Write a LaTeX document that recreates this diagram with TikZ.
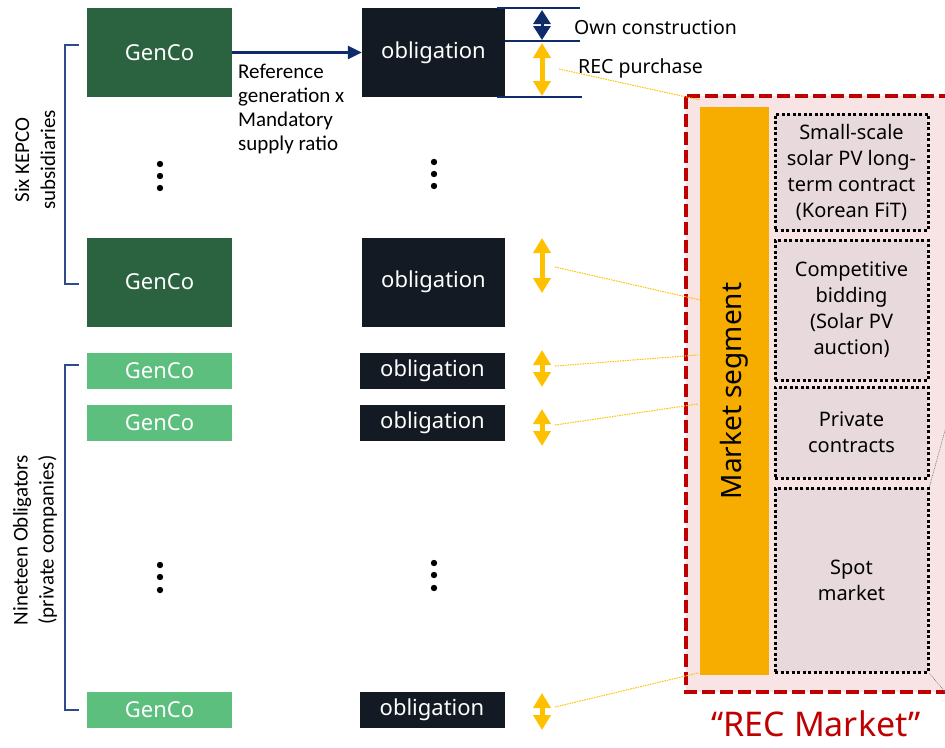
\documentclass[tikz,border=0pt]{standalone}
\usepackage{fontspec}
\setmainfont{Noto Sans}
\newfontfamily\lblfont{Carlito}
\usetikzlibrary{arrows.meta}
\definecolor{dkgreen}{HTML}{2B6340}
\definecolor{ltgreen}{HTML}{5CBF7E}
\definecolor{obl}{HTML}{131A23}
\definecolor{navy}{HTML}{0F2B6B}
\definecolor{brk}{HTML}{2F4B8C}
\definecolor{yel}{HTML}{FFC000}
\definecolor{barorange}{HTML}{F7AC00}
\definecolor{pinkbg}{HTML}{F8E4E5}
\definecolor{boxbg}{HTML}{E8D9DC}
\definecolor{darkred}{HTML}{C00000}
\begin{document}
\begin{tikzpicture}[x=1pt,y=-1pt,
  gbig/.style={fill=dkgreen,text=white,minimum width=145,minimum height=89,inner sep=0,font=\fontsize{22}{24}\selectfont},
  gsmall/.style={fill=ltgreen,text=white,minimum width=145,minimum height=36,inner sep=0,font=\fontsize{22}{24}\selectfont},
  obig/.style={fill=obl,text=white,minimum width=143,minimum height=89,inner sep=0,font=\fontsize{22}{24}\selectfont},
  osmall/.style={fill=obl,text=white,minimum width=145,minimum height=36,inner sep=0,font=\fontsize{22}{24}\selectfont},
  yarrow/.style={yel,line width=5,{Triangle[length=15pt,width=17pt]}-{Triangle[length=15pt,width=17pt]}},
  ydot/.style={yel,line width=1,dash pattern=on 1.5pt off 1pt},
  bracket/.style={brk,line width=1.2},
  segbox/.style={draw=black,fill=boxbg,line width=3,dash pattern=on 3pt off 2.5pt,minimum width=153,inner sep=0,align=center,font=\fontsize{20}{26}\selectfont},
  vdot/.style={fill=black},
  sidelabel/.style={rotate=90,align=center,font=\lblfont\fontsize{21}{26}\selectfont},
]
\useasboundingbox (0,0) rectangle (945,747);
\begin{scope}
\clip (0,0) rectangle (945,747);

% REC market background
\draw[darkred,line width=4,dash pattern=on 13pt off 5pt,fill=pinkbg] (686,96) rectangle (970,692);

% generators
\node[gbig] (g1) at (159.5,52.5) {GenCo};
\node[gbig] (g2) at (159.5,282) {GenCo};
\node[gsmall] (g3) at (159.5,371) {GenCo};
\node[gsmall] (g4) at (159.5,423) {GenCo};
\node[gsmall] (g5) at (159.5,710) {GenCo};

% obligations
\node[obig] (o1) at (433.5,52.5) {obligation};
\node[obig] (o2) at (433.5,282) {obligation};
\node[osmall] (o3) at (432.5,370.5) {obligation};
\node[osmall] (o4) at (432.5,423) {obligation};
\node[osmall] (o5) at (432,710) {obligation};

% arrow GenCo -> obligation
\draw[navy,line width=2.5,-{Triangle[length=14pt,width=13pt]}] (g1) -- (o1);
\node[anchor=north west,align=left,inner sep=0,font=\lblfont\fontsize{21}{24}\selectfont] (reflbl) at (238,64) {Reference\\generation x\\Mandatory\\supply ratio};

% vertical dots
\foreach \yy in {164,176,188} { \fill[vdot] (160,\yy) circle (3.2); \fill[vdot] (434,\yy-2) circle (3.2); }
\foreach \yy in {565,577,590} { \fill[vdot] (160,\yy) circle (3.2); \fill[vdot] (434,\yy-2) circle (3.2); }

% brackets
\draw[bracket] (79,45) -- (65,45) -- (65,284) -- (79,284);
\draw[bracket] (79,365) -- (65,365) -- (65,710) -- (79,710);
\node[sidelabel] (lbl1) at (35,160) {Six KEPCO\\subsidiaries};
\node[sidelabel] (lbl2) at (35,540) {Nineteen Obligators\\(private companies)};

% obligation split lines
\coordinate (l1a) at (497,8);  \coordinate (l1b) at (580,8);
\coordinate (l2a) at (505,41); \coordinate (l2b) at (580,41);
\coordinate (l3a) at (497,97); \coordinate (l3b) at (582,97);
\draw[navy,line width=1.2] (l1a) -- (l1b);
\draw[navy,line width=1.2] (l2a) -- (l2b);
\draw[navy,line width=1.2] (l3a) -- (l3b);

% arrows
\coordinate (n1) at (542,10); \coordinate (n2) at (542,40);
\draw[navy,line width=3,{Triangle[length=14pt,width=17pt]}-{Triangle[length=14pt,width=17pt]}] (n1) -- (n2);
\coordinate (a1t) at (542,43);  \coordinate (a1b) at (542,96);
\coordinate (a2t) at (542,238); \coordinate (a2b) at (542,293);
\coordinate (a3t) at (542,350); \coordinate (a3b) at (542,387);
\coordinate (a4t) at (542,409); \coordinate (a4b) at (542,446);
\coordinate (a5t) at (542,693); \coordinate (a5b) at (542,730);
\draw[yarrow] (a1t) -- (a1b);
\draw[yarrow] (a2t) -- (a2b);
\draw[yarrow] (a3t) -- (a3b);
\draw[yarrow] (a4t) -- (a4b);
\draw[yarrow] (a5t) -- (a5b);

\node[anchor=west,inner sep=0,font=\fontsize{19.5}{22}\selectfont] (own) at (574,27) {Own construction};
\node[anchor=west,inner sep=0,font=\fontsize{19.5}{22}\selectfont] (recp) at (578,68) {REC purchase};

% market segment bar
\node[fill=barorange,minimum width=568,minimum height=69,inner sep=0,rotate=90,font=\fontsize{28}{30}\selectfont] (bar) at (734.5,391) {Market segment};

% dotted yellow links
\coordinate (d1s) at (559,69);  \coordinate (d1e) at (700,100);
\coordinate (d2s) at (555,267); \coordinate (d2e) at (700,300);
\coordinate (d3s) at (555,366); \coordinate (d3e) at (698,355);
\coordinate (d4s) at (555,425); \coordinate (d4e) at (698,404);
\coordinate (d5s) at (555,707); \coordinate (d5e) at (698,673);
\draw[ydot] (d1s) -- (d1e);
\draw[ydot] (d2s) -- (d2e);
\draw[ydot] (d3s) -- (d3e);
\draw[ydot] (d4s) -- (d4e);
\draw[ydot] (d5s) -- (d5e);

% segment boxes
\node[segbox,minimum height=116] (s1) at (851.5,172) {Small-scale\\solar PV long-\\term contract\\(Korean FiT)};
\node[segbox,minimum height=140] (s2) at (851.5,310) {Competitive\\bidding\\(Solar PV\\auction)};
\node[segbox,minimum height=91] (s3) at (851.5,432.5) {Private\\contracts};
\node[segbox,minimum height=184] (s4) at (851.5,580) {Spot\\market};

% gray lines off the right edge
\coordinate (gr1) at (952,405);
\coordinate (gr2) at (952,700);
\draw[gray,line width=0.6,dash pattern=on 1pt off 0.8pt] (s4.north east) -- (gr1);
\draw[gray,line width=0.6,dash pattern=on 1pt off 0.8pt] (s4.south east) -- (gr2);

\node[text=darkred,font=\fontsize{34}{38}\selectfont,inner sep=1pt] (recm) at (816,724) {“REC Market”};
\end{scope}
\end{tikzpicture}
\end{document}
